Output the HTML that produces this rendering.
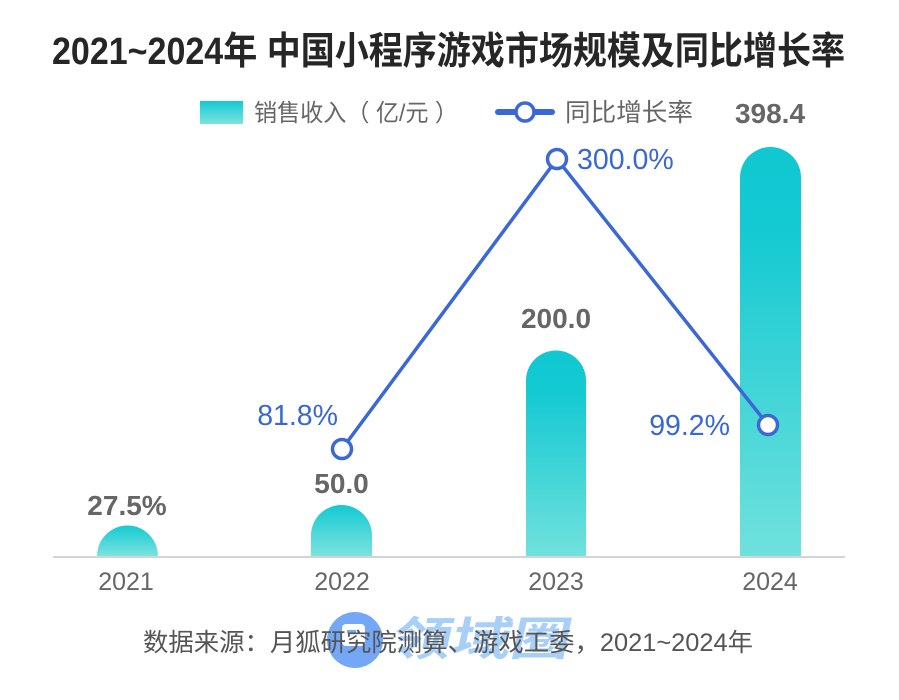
<!DOCTYPE html>
<html>
<head>
<meta charset="utf-8">
<style>
  html,body{margin:0;padding:0;background:#fff;}
  svg{display:block;}
  text{font-family:"Liberation Sans","Noto Sans CJK SC",sans-serif;}
</style>
</head>
<body>
<svg width="899" height="700" viewBox="0 0 899 700" xmlns="http://www.w3.org/2000/svg">
  <defs>
    <linearGradient id="bg" x1="0" y1="0" x2="0" y2="1">
      <stop offset="0" stop-color="#10c8d1"/>
      <stop offset="0.2" stop-color="#14c9d2"/>
      <stop offset="1" stop-color="#70e1dc"/>
    </linearGradient>
    <linearGradient id="bgs" x1="0" y1="0" x2="0" y2="1">
      <stop offset="0" stop-color="#14c9d2"/>
      <stop offset="1" stop-color="#7be3df"/>
    </linearGradient>
  </defs>
  <rect width="899" height="700" fill="#fff"/>

  <!-- Title -->
  <text x="52" y="64" font-size="38" font-weight="bold" fill="#262626" textLength="793" lengthAdjust="spacingAndGlyphs">2021~2024年 中国小程序游戏市场规模及同比增长率</text>

  <!-- Legend -->
  <rect x="200" y="101" width="43" height="23" fill="url(#bgs)"/>
  <text x="254" y="121" font-size="24" fill="#666" textLength="204" lengthAdjust="spacingAndGlyphs">销售收入（ 亿/元 ）</text>
  <line x1="498" y1="112" x2="552" y2="112" stroke="#3b68d4" stroke-width="6" stroke-linecap="round"/>
  <circle cx="525" cy="112" r="9" fill="#fff" stroke="#3b68d4" stroke-width="3.5"/>
  <text x="565" y="121" font-size="25" fill="#666" textLength="128" lengthAdjust="spacingAndGlyphs">同比增长率</text>

  <!-- Axis -->
  <line x1="53" y1="557" x2="845" y2="557" stroke="#d4d4d4" stroke-width="2"/>

  <!-- Bars -->
  <path d="M97,556 A30.5,30.5 0 0 1 158,556 Z" fill="url(#bgs)"/>
  <path d="M311,556 V535.5 A30.5,30.5 0 0 1 372,535.5 V556 Z" fill="url(#bgs)"/>
  <path d="M526,556 V380.5 A30,30 0 0 1 586,380.5 V556 Z" fill="url(#bg)"/>
  <path d="M740,556 V177.5 A30.5,30.5 0 0 1 801,177.5 V556 Z" fill="url(#bg)"/>

  <!-- Bar values -->
  <g font-size="28" font-weight="bold" fill="#666" text-anchor="middle">
    <text x="127" y="515">27.5%</text>
    <text x="341.5" y="493">50.0</text>
    <text x="556" y="328">200.0</text>
    <text x="770" y="123">398.4</text>
  </g>

  <!-- Year labels -->
  <g font-size="25" fill="#666" text-anchor="middle">
    <text x="126" y="590">2021</text>
    <text x="342" y="590">2022</text>
    <text x="556" y="590">2023</text>
    <text x="770" y="590">2024</text>
  </g>

  <!-- Line -->
  <polyline points="342,449 557,159 768,425" fill="none" stroke="#3b68d4" stroke-width="3.5"/>
  <circle cx="342" cy="449" r="9.5" fill="#fff" stroke="#3b68d4" stroke-width="3.5"/>
  <circle cx="557" cy="159" r="9.5" fill="#fff" stroke="#3b68d4" stroke-width="3.5"/>
  <circle cx="768" cy="425" r="9.5" fill="#fff" stroke="#3b68d4" stroke-width="3.5"/>

  <!-- Line labels -->
  <g font-size="28.5" fill="#3a68d2">
    <text x="338" y="425" text-anchor="end">81.8%</text>
    <text x="577" y="169">300.0%</text>
    <text x="730" y="435" text-anchor="end">99.2%</text>
  </g>

  <!-- Watermark -->
  <circle cx="355" cy="640" r="28" fill="#74a7f6"/>
  <rect x="342" y="624" width="23" height="22" rx="4" fill="#fff"/>
  <rect x="347" y="630" width="9" height="3" fill="#74a7f6"/>
  <text x="0" y="0" font-size="46" font-weight="bold" fill="#a7cff7" textLength="178" lengthAdjust="spacingAndGlyphs" transform="translate(390,655) skewX(-12)">领域圈</text>

  <!-- Source -->
  <text x="143" y="651" font-size="25" fill="#555" textLength="610" lengthAdjust="spacingAndGlyphs">数据来源：月狐研究院测算、游戏工委，2021~2024年</text>
</svg>
</body>
</html>
